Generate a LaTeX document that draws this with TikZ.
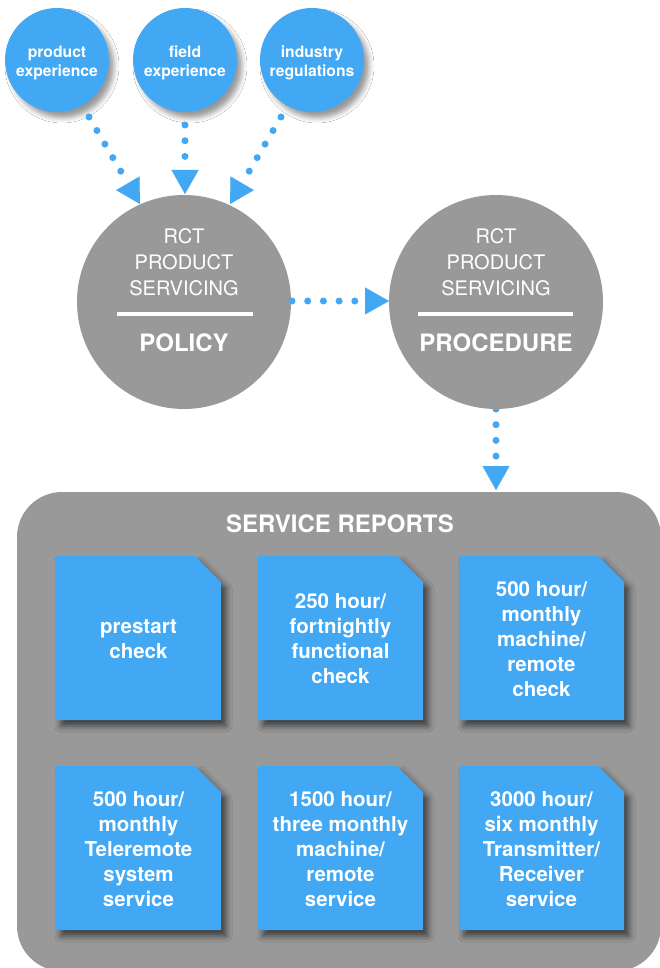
\documentclass[tikz,border=0pt]{standalone}
\usepackage{fontspec}
\setmainfont{TeX Gyre Heros}
\usetikzlibrary{arrows.meta,shadows.blur}
\definecolor{blueA}{RGB}{66,168,244}
\definecolor{grayA}{RGB}{153,153,153}
\tikzset{
  smallcirc/.style={circle, fill=blueA, minimum size=104pt, inner sep=0pt,
    blur shadow={shadow xshift=5pt, shadow yshift=-6pt, shadow blur radius=5pt, shadow opacity=40}},
  smalltext/.style={text=white, align=center, inner sep=0pt, font=\bfseries\fontsize{15.7}{19}\selectfont},
  bigcirc/.style={circle, fill=grayA, minimum size=214pt, inner sep=0pt},
  circtop/.style={text=white, align=center, font=\fontsize{20}{26}\selectfont},
  circbot/.style={text=white, font=\bfseries\fontsize{24}{26}\selectfont},
  dotarrow/.style={draw=blueA, line width=7pt, line cap=round, dash pattern=on 0pt off 15.7pt,
    -{Triangle[length=24pt, width=27pt, line width=0.1pt]}},
  container/.style={fill=grayA, rounded corners=45pt, minimum width=644pt, minimum height=479pt, inner sep=0pt},
  doctitle/.style={text=white, font=\bfseries\fontsize{24}{26}\selectfont},
  docfill/.style={fill=blueA, blur shadow={shadow xshift=5pt, shadow yshift=-6pt, shadow blur radius=6pt, shadow opacity=60}},
  doctext/.style={text=white, align=center, font=\bfseries\fontsize{20.5}{25}\selectfont}
}
\newcommand\docbox[4]{%
  \fill[docfill] (#2,#3) -- ++(139,0) -- ++(26,26) -- ++(0,138) -- ++(-165,0) -- cycle;
  \node[doctext] (#1) at (#2+82.5,#3+83) {#4};
}
\begin{document}
\begin{tikzpicture}[x=1pt,y=-1pt]
\useasboundingbox (0,0) rectangle (659,968);
\fill[white] (0,0) rectangle (659,968);

% container
\node[container] (reports) at (339,731.5) {};
\node[doctitle] (title) at (340,524) {SERVICE REPORTS};

% vertical arrow procedure -> reports (under circle)
\coordinate (v1) at (496,409);
\coordinate (v2) at (496,490);
\draw[dotarrow] (v1) -- (v2);

% big circles
\node[bigcirc] (policy) at (184,302) {};
\node[bigcirc] (procedure) at (496,302) {};
\node[circtop] (poltop) at (184,262) {RCT\\PRODUCT\\SERVICING};
\node[circtop] (protop) at (496,262) {RCT\\PRODUCT\\SERVICING};
\draw[white, line width=4pt] (117,314) -- (253,314);
\draw[white, line width=4pt] (418,314) -- (573,314);
\node[circbot] (polbot) at (184,343) {POLICY};
\node[circbot] (probot) at (496,343) {PROCEDURE};

% small circles
\node[smallcirc] (pe) at (57,60) {};
\node[smallcirc] (fe) at (185,60) {};
\node[smallcirc] (ir) at (312,60) {};
\node[smalltext] (pet) at (57,62.5) {product\\experience};
\node[smalltext] (fet) at (185,62.5) {field\\experience};
\node[smalltext] (irt) at (312,62.5) {industry\\regulations};

% arrows
\coordinate (a1) at (89,117);
\coordinate (b1) at (140,204);
\coordinate (a2) at (185,125);
\coordinate (b2) at (185,194);
\coordinate (a3) at (281,117);
\coordinate (b3) at (230,204);
\coordinate (h1) at (292,301);
\coordinate (h2) at (389,301);
\draw[dotarrow] (a1) -- (b1);
\draw[dotarrow] (a2) -- (b2);
\draw[dotarrow] (a3) -- (b3);
\draw[dotarrow] (h1) -- (h2);

% documents
\docbox{d1}{56}{556}{prestart\\check}
\docbox{d2}{258}{556}{250 hour/\\fortnightly\\functional\\check}
\docbox{d3}{459}{556}{500 hour/\\monthly\\machine/\\remote\\check}
\docbox{d4}{56}{766}{500 hour/\\monthly\\Teleremote\\system\\service}
\docbox{d5}{258}{766}{1500 hour/\\three monthly\\machine/\\remote\\service}
\docbox{d6}{459}{766}{3000 hour/\\six monthly\\Transmitter/\\Receiver\\service}
\end{tikzpicture}
\end{document}
